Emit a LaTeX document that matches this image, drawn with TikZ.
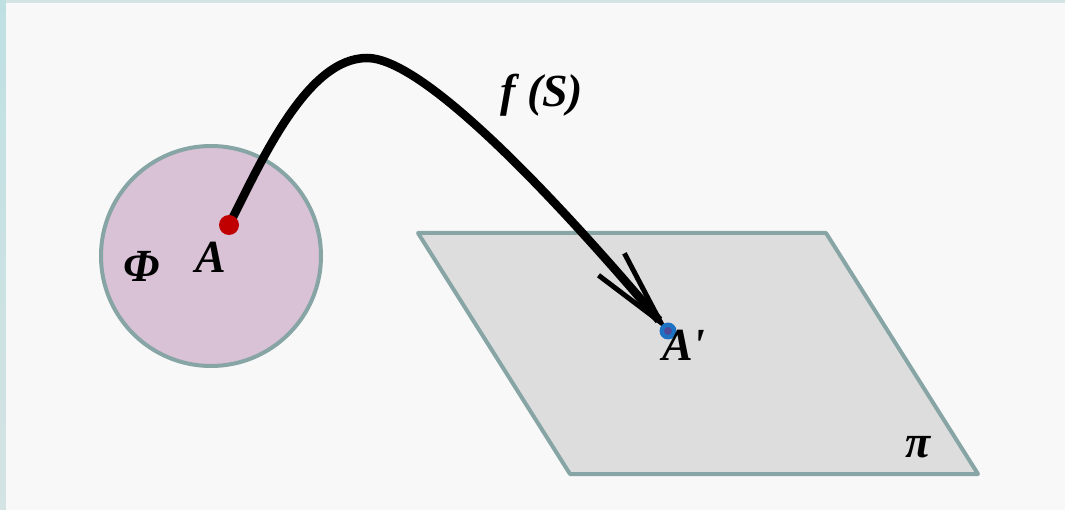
\documentclass[tikz,border=0pt]{standalone}
\usepackage{fontspec}
\setmainfont{Liberation Serif}
\usetikzlibrary{arrows.meta}
\definecolor{frametop}{HTML}{D4E3E3}
\definecolor{framebot}{HTML}{BFE0E3}
\definecolor{paper}{HTML}{F8F8F8}
\definecolor{rim}{HTML}{87A5A5}
\definecolor{disc}{HTML}{D9C1D6}
\definecolor{plane}{HTML}{DDDDDD}
\definecolor{dotred}{HTML}{C00000}
\definecolor{dotblue}{HTML}{1E72C4}
\definecolor{dotcore}{HTML}{4C4A99}
\tikzset{
  lbl/.style={font=\fontsize{46}{50}\selectfont\bfseries\itshape, inner sep=0pt, anchor=base west},
  ptdot/.style={circle, inner sep=0pt, minimum size=#1},
  edge/.style={draw=rim, line width=4pt, line join=round},
}
\begin{document}
\begin{tikzpicture}[x=1pt,y=-1pt]
  \useasboundingbox (0,0) rectangle (1065,510);
  % frame and paper
  \shade[top color=framebot, bottom color=frametop] (0,0) rectangle (6,510);
  \fill[frametop] (6,0) rectangle (1065,3);
  \fill[paper] (6,3) rectangle (1065,510);
  % disc Phi
  \draw[edge, fill=disc] (211,256) circle[radius=110];
  % plane pi
  \coordinate (P1) at (418,233);
  \coordinate (P2) at (826,233);
  \coordinate (P3) at (978,474);
  \coordinate (P4) at (570,474);
  \draw[edge, fill=plane] (P1) -- (P2) -- (P3) -- (P4) -- cycle;
  % the map
  \coordinate (a) at (229,225);
  \coordinate (aimg) at (668,331);
  \coordinate (peak) at (367,58);
  \draw[line width=8.5pt, -{Straight Barb[length=76pt, width=34pt, line width=5pt]}]
    (a) .. controls (262,160) and (307,58) .. (peak)
        .. controls (420,58) and (540,180) .. (aimg);
  \node[ptdot=20pt, fill=dotred] (dotA) at (a) {};
  \node[ptdot=17pt, fill=dotblue] (dotAimg) at (aimg) {};
  \node[ptdot=8pt, fill=dotcore] (coreAimg) at (aimg) {};
  % labels
  \node[lbl] (lblPhi) at (123,282) {Φ};
  \node[lbl] (lblA) at (195,273) {A};
  \node[lbl] (lblAimg) at (662,360) {A\textquotesingle};
  \node[lbl] (lblPi) at (905,457) {π};
  \node[lbl] (lblF) at (500,107) {f (S)};
\end{tikzpicture}
\end{document}
